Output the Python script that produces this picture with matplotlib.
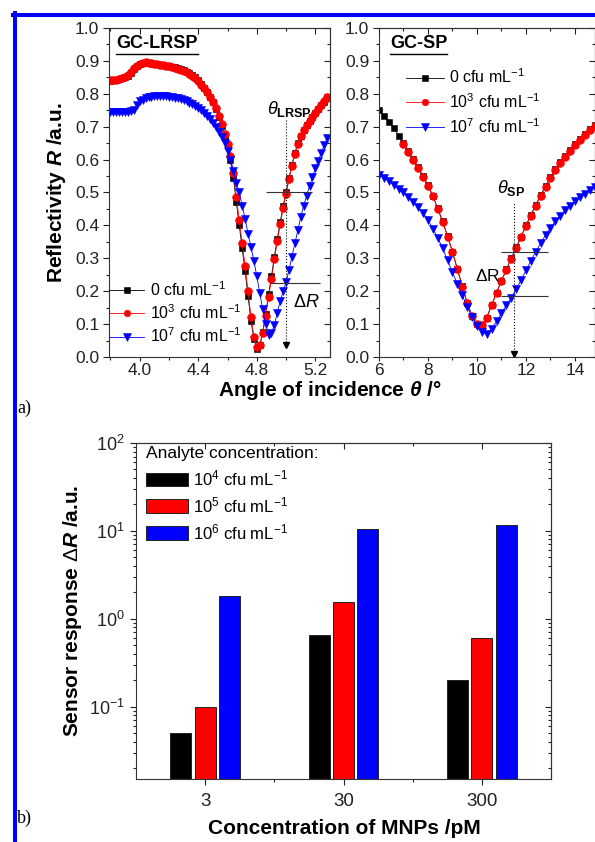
import numpy as np
import matplotlib
matplotlib.use('Agg')
import matplotlib.pyplot as plt
from matplotlib.lines import Line2D
from matplotlib.ticker import MultipleLocator, FixedLocator, LogLocator, NullFormatter, FormatStrFormatter

plt.rcParams['font.family'] = ['Liberation Sans', 'DejaVu Sans']
plt.rcParams['mathtext.fontset'] = 'custom'
plt.rcParams['mathtext.rm'] = 'Liberation Sans'
plt.rcParams['mathtext.it'] = 'Liberation Sans:italic'
plt.rcParams['mathtext.bf'] = 'Liberation Sans:bold'
plt.rcParams['mathtext.bfit'] = 'Liberation Sans:italic:bold'

# ---- a) left: GC-LRSP reflectivity, angle step 0.02 deg
theta_lrsp = np.round(np.arange(3.80, 5.281, 0.02), 2)
r_lrsp_0 = [0.840, 0.841, 0.842, 0.845, 0.848, 0.851, 0.855, 0.864, 0.875, 0.884,
            0.890, 0.894, 0.895, 0.894, 0.893, 0.891, 0.890, 0.889, 0.887, 0.886,
            0.884, 0.882, 0.880, 0.878, 0.875, 0.871, 0.867, 0.862, 0.856, 0.850,
            0.841, 0.830, 0.818, 0.806, 0.791, 0.775, 0.754, 0.730, 0.702, 0.670,
            0.640, 0.600, 0.545, 0.470, 0.400, 0.330, 0.260, 0.185, 0.110, 0.055,
            0.025, 0.035, 0.075, 0.130, 0.190, 0.245, 0.305, 0.360, 0.410, 0.460,
            0.500, 0.545, 0.585, 0.620, 0.650, 0.672, 0.690, 0.705, 0.718, 0.730,
            0.742, 0.753, 0.765, 0.776, 0.787]
r_lrsp_3 = [0.842, 0.842, 0.843, 0.846, 0.849, 0.852, 0.857, 0.866, 0.877, 0.886,
            0.891, 0.895, 0.896, 0.895, 0.893, 0.892, 0.890, 0.889, 0.887, 0.885,
            0.883, 0.881, 0.879, 0.876, 0.873, 0.869, 0.865, 0.860, 0.854, 0.847,
            0.838, 0.828, 0.817, 0.805, 0.791, 0.776, 0.757, 0.734, 0.707, 0.677,
            0.648, 0.610, 0.558, 0.486, 0.416, 0.346, 0.276, 0.200, 0.122, 0.062,
            0.030, 0.036, 0.072, 0.124, 0.182, 0.238, 0.297, 0.352, 0.403, 0.453,
            0.495, 0.540, 0.581, 0.617, 0.648, 0.671, 0.689, 0.705, 0.718, 0.731,
            0.743, 0.755, 0.767, 0.778, 0.790]
r_lrsp_7 = [0.745, 0.745, 0.745, 0.745, 0.745, 0.746, 0.746, 0.747, 0.752, 0.765,
            0.778, 0.782, 0.786, 0.789, 0.791, 0.792, 0.793, 0.793, 0.793, 0.792,
            0.791, 0.790, 0.788, 0.786, 0.784, 0.781, 0.777, 0.773, 0.768, 0.763,
            0.757, 0.750, 0.742, 0.732, 0.722, 0.712, 0.700, 0.685, 0.670, 0.650,
            0.625, 0.600, 0.565, 0.530, 0.500, 0.460, 0.420, 0.375, 0.335, 0.292,
            0.245, 0.195, 0.145, 0.100, 0.068, 0.072, 0.098, 0.135, 0.170, 0.200,
            0.228, 0.265, 0.305, 0.345, 0.385, 0.425, 0.460, 0.490, 0.520, 0.547,
            0.573, 0.597, 0.620, 0.643, 0.665]

# ---- a) right: GC-SP reflectivity, angle step 0.2 deg (10^3 curve starts at 7 deg)
theta_sp = np.round(np.arange(6.0, 14.81, 0.2), 1)
r_sp_0 = [0.750, 0.733, 0.715, 0.695, 0.673, 0.650, 0.626, 0.601, 0.576, 0.550,
          0.522, 0.490, 0.452, 0.412, 0.368, 0.320, 0.268, 0.216, 0.165, 0.125,
          0.100, 0.097, 0.120, 0.158, 0.196, 0.232, 0.266, 0.300, 0.333, 0.366,
          0.400, 0.432, 0.463, 0.492, 0.520, 0.546, 0.570, 0.592, 0.612, 0.630,
          0.647, 0.663, 0.678, 0.692, 0.705]
r_sp_3 = [0.648, 0.624, 0.599, 0.574, 0.548, 0.520, 0.488, 0.450, 0.410, 0.366,
          0.318, 0.266, 0.214, 0.163, 0.124, 0.100, 0.098, 0.120, 0.157, 0.195,
          0.231, 0.265, 0.298, 0.331, 0.364, 0.397, 0.429, 0.460, 0.489, 0.517,
          0.543, 0.567, 0.589, 0.609, 0.627, 0.644, 0.660, 0.675, 0.689, 0.702]
r_sp_7 = [0.553, 0.545, 0.535, 0.524, 0.512, 0.500, 0.487, 0.472, 0.455, 0.437,
          0.416, 0.390, 0.362, 0.330, 0.294, 0.257, 0.222, 0.187, 0.153, 0.122,
          0.095, 0.076, 0.070, 0.085, 0.108, 0.133, 0.157, 0.180, 0.206, 0.234,
          0.263, 0.292, 0.320, 0.346, 0.370, 0.392, 0.412, 0.430, 0.446, 0.460,
          0.473, 0.485, 0.496, 0.507, 0.517]

labels_a = ['0 cfu mL$^{-1}$', '10$^3$ cfu mL$^{-1}$', '10$^7$ cfu mL$^{-1}$']

# resonance read-out marks
theta_res_lrsp, dr_lrsp = 5.0, (0.5, 0.225)
theta_res_sp, dr_sp = 11.5, (0.32, 0.185)

# ---- b) sensor response
mnp_conc = ['3', '30', '300']
resp_1e4 = [0.05, 0.66, 0.20]
resp_1e5 = [0.10, 1.56, 0.61]
resp_1e6 = [1.82, 10.5, 11.7]
labels_b = ['10$^4$ cfu mL$^{-1}$', '10$^5$ cfu mL$^{-1}$', '10$^6$ cfu mL$^{-1}$']

W, H = 595, 842
fig = plt.figure(figsize=(W / 100, H / 100), dpi=100)


def box(x0, y0, x1, y1):
    return [x0 / W, 1 - y1 / H, (x1 - x0) / W, (y1 - y0) / H]


def ticks(ax, xmaj, xmin, ymaj, ymin):
    ax.xaxis.set_major_locator(xmaj)
    ax.xaxis.set_minor_locator(xmin)
    ax.yaxis.set_major_locator(ymaj)
    ax.yaxis.set_minor_locator(ymin)
    ax.tick_params(which='both', direction='out', width=0.8, colors='#222222', labelcolor='#222222')
    ax.tick_params(which='major', length=4)
    ax.tick_params(which='minor', length=2.3)
    for s in ax.spines.values():
        s.set_linewidth(0.8)
        s.set_color('#333333')
    top = ax.secondary_xaxis('top')
    top.xaxis.set_major_locator(xmaj)
    top.xaxis.set_minor_locator(xmin)
    top.tick_params(which='both', direction='in', labeltop=False, width=0.8, colors='#222222')
    top.tick_params(which='major', length=4)
    top.tick_params(which='minor', length=2.3)
    right = ax.secondary_yaxis('right')
    right.yaxis.set_major_locator(ymaj)
    right.yaxis.set_minor_locator(ymin)
    right.yaxis.set_minor_formatter(NullFormatter())
    right.tick_params(which='both', direction='in', labelright=False, width=0.8, colors='#222222')
    right.tick_params(which='major', length=4)
    right.tick_params(which='minor', length=2.3)
    for sec in (top, right):
        for s in sec.spines.values():
            s.set_linewidth(0.8)
            s.set_color('#333333')


styles = [dict(marker='s', color='k', ms=5.0), dict(marker='o', color='#ff0000', ms=5.6),
          dict(marker='v', color='#0000ff', ms=6.0)]

# ---------- panel a) left
ax1 = fig.add_axes(box(109, 28, 330, 357))
for th, r, st, lab in zip([theta_lrsp] * 3, [r_lrsp_0, r_lrsp_3, r_lrsp_7], styles, labels_a):
    ax1.plot(th, r, lw=0.6, mew=0.4, mec=st['color'], label=lab, **st)
ax1.set_xlim(3.79, 5.30)
ax1.set_ylim(0, 1.0)
ticks(ax1, MultipleLocator(0.4), MultipleLocator(0.2), MultipleLocator(0.1), MultipleLocator(0.05))
ax1.xaxis.set_major_formatter(FormatStrFormatter('%.1f'))
ax1.yaxis.set_major_formatter(FormatStrFormatter('%.1f'))
ax1.tick_params(labelsize=12.5)
ax1.tick_params(axis='x', pad=1, length=3)
ax1.tick_params(axis='y', pad=3)
ax1.legend(loc='lower left', bbox_to_anchor=(0.0, 0.035), frameon=False, fontsize=11.5,
           handlelength=2.2, handletextpad=0.35, labelspacing=0.3, borderpad=0,
           borderaxespad=0, numpoints=1, markerscale=0.85)
ax1.vlines(theta_res_lrsp, 0.045, 0.72, colors='k', linestyles=':', lw=0.8)
ax1.plot(theta_res_lrsp, 0.035, marker='v', color='k', ms=4)
ax1.hlines(dr_lrsp[0], 4.86, 5.18, colors='#333333', lw=0.8)
ax1.hlines(dr_lrsp[1], 4.89, 5.23, colors='#333333', lw=0.8)
ax1.text(4.87, 0.755, r'$\theta_{\mathbf{LRSP}}$', fontsize=13, va='center')
ax1.text(5.045, 0.165, r'$\Delta\mathit{R}$', fontsize=13, va='center')
t1 = ax1.text(0.032, 0.952, 'GC-LRSP', transform=ax1.transAxes, fontsize=13,
              fontweight='bold', va='center')

# ---------- panel a) right
ax2 = fig.add_axes(box(379, 28, 595, 357))
for th, r, st, lab in zip([theta_sp, theta_sp[5:], theta_sp], [r_sp_0, r_sp_3, r_sp_7], styles, labels_a):
    ax2.plot(th, r, lw=0.6, mew=0.4, mec=st['color'], label=lab, **st)
ax2.set_xlim(6, 14.82)
ax2.set_ylim(0, 1.0)
ticks(ax2, MultipleLocator(2), MultipleLocator(1), MultipleLocator(0.1), MultipleLocator(0.05))
ax2.yaxis.set_major_formatter(FormatStrFormatter('%.1f'))
ax2.tick_params(labelsize=12.5)
ax2.tick_params(axis='x', pad=1, length=3)
ax2.tick_params(axis='y', pad=3)
ax2.legend(loc='upper left', bbox_to_anchor=(0.125, 0.88), frameon=False, fontsize=11.5,
           handlelength=2.4, handletextpad=0.3, labelspacing=0.38, borderpad=0,
           borderaxespad=0, numpoints=1, markerscale=0.85)
ax2.vlines(theta_res_sp, 0.015, 0.47, colors='k', linestyles=':', lw=0.8)
ax2.plot(theta_res_sp, 0.008, marker='v', color='k', ms=4)
ax2.hlines(dr_sp[0], 11.0, 12.9, colors='#333333', lw=0.8)
ax2.hlines(dr_sp[1], 11.0, 12.9, colors='#333333', lw=0.8)
ax2.text(10.82, 0.515, r'$\theta_{\mathbf{SP}}$', fontsize=13, va='center')
ax2.text(10.95, 0.245, r'$\Delta$R', fontsize=12.5, va='center', ha='right')
t2 = ax2.text(0.05, 0.952, 'GC-SP', transform=ax2.transAxes, fontsize=13,
              fontweight='bold', va='center')

fig.text(330 / W, 1 - 390 / H, r'Angle of incidence $\mathbfit{\theta}$ /°', fontsize=15,
         fontweight='bold', ha='center', va='center')
fig.text(57 / W, 1 - 193 / H, r'Reflectivity $\mathbfit{R}$ /a.u.', fontsize=15,
         fontweight='bold', ha='center', va='center', rotation=90)
fig.text(24 / W, 1 - 408 / H, 'a)', fontsize=13, family='Liberation Serif', ha='center', va='center')

# ---------- panel b)
ax3 = fig.add_axes(box(136, 443, 551, 779))
ax3.set_yscale('log')
xpos = np.arange(len(mnp_conc))
bw, off = 0.152, 0.177
for k, (vals, col, lab) in enumerate(zip([resp_1e4, resp_1e5, resp_1e6],
                                         ['#000000', '#ff0000', '#0000ff'], labels_b)):
    ax3.bar(xpos + (k - 1) * off, vals, bw, color=col, edgecolor='#222222', lw=0.7, label=lab)
ax3.set_xlim(-0.5, 2.5)
ax3.set_ylim(0.015, 100)
ticks(ax3, FixedLocator(xpos), FixedLocator(xpos[:-1] + 0.5),
      LogLocator(base=10), LogLocator(base=10, subs=np.arange(2, 10)))
ax3.set_xticks(xpos, mnp_conc)
ax3.yaxis.set_minor_formatter(NullFormatter())
ax3.tick_params(axis='x', labelsize=13.5, pad=6)
ax3.tick_params(axis='y', labelsize=13, pad=4)
ax3.legend(loc='upper left', bbox_to_anchor=(0.024, 0.99), frameon=False, fontsize=12,
           title='Analyte concentration:', title_fontsize=12.5, alignment='left',
           handlelength=2.5, handleheight=0.9, handletextpad=0.3, labelspacing=0.42,
           borderpad=0, borderaxespad=0)

fig.text(344 / W, 1 - 828 / H, 'Concentration of MNPs /pM', fontsize=15,
         fontweight='bold', ha='center', va='center')
fig.text(72 / W, 1 - 611 / H, r'Sensor response $\Delta\mathbfit{R}$ /a.u.', fontsize=15,
         fontweight='bold', ha='center', va='center', rotation=90)
fig.text(24 / W, 1 - 818 / H, 'b)', fontsize=13, family='Liberation Serif', ha='center', va='center')

# blue frame of the figure
fig.add_artist(Line2D([15 / W, 15 / W], [0, 1 - 13 / H], color='#0000ff', lw=2.9))
fig.add_artist(Line2D([13 / W, 1], [1 - 15 / H, 1 - 15 / H], color='#0000ff', lw=2.9))

# underline the panel titles
fig.canvas.draw()
inv = fig.transFigure.inverted()
for t in (t1, t2):
    bb = t.get_window_extent()
    (x0, y0), (x1, _) = inv.transform([(bb.x0, bb.y0 - 1.5), (bb.x1, bb.y0)])
    fig.add_artist(Line2D([x0, x1], [y0, y0], color='k', lw=1.0))

fig.savefig('out.png', dpi=100)
